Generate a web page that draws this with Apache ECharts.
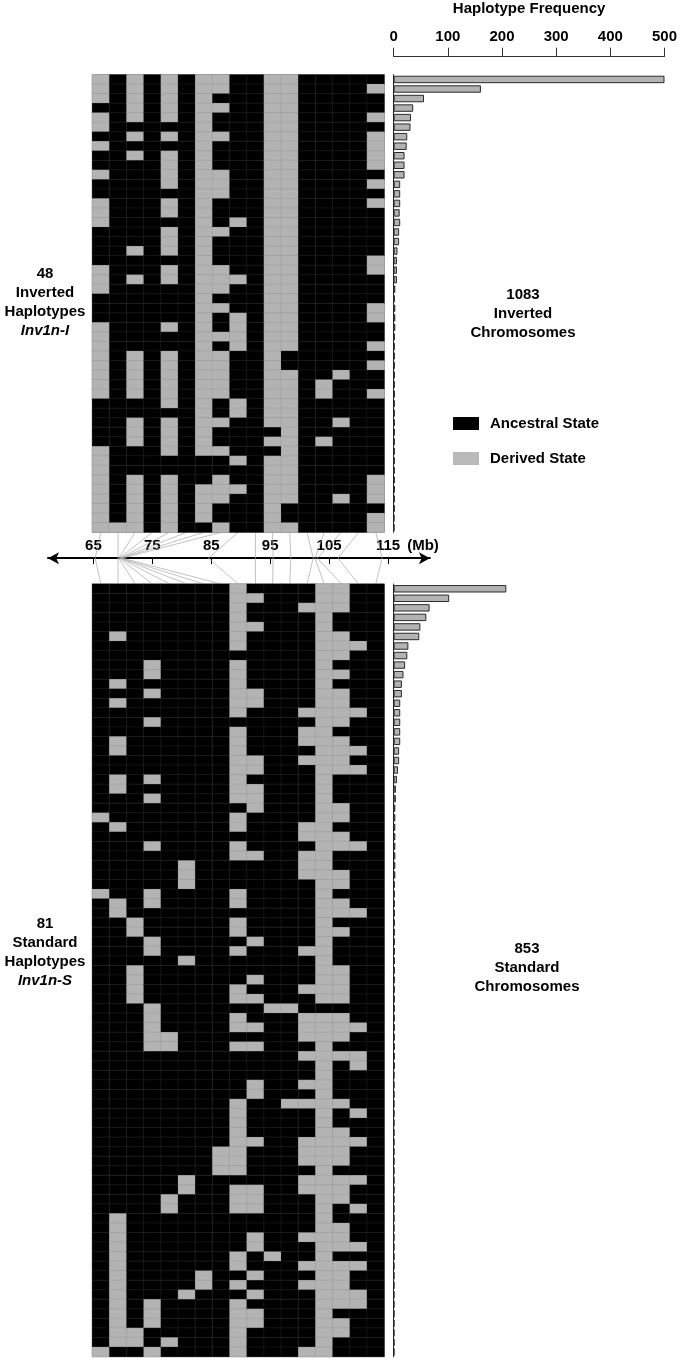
<!DOCTYPE html>
<html><head><meta charset="utf-8">
<script src="https://cdn.jsdelivr.net/npm/echarts@6/dist/echarts.min.js"></script>
<style>html,body{margin:0;padding:0;background:#fff}#c{width:680px;height:1360px}</style>
</head><body><div id="c"></div>
<script>
// ---------------- DATA ----------------
const snpLabels = ['S1','S2','S3','S4','S5','S6','S7','S8','S9','S10','S11','S12','S13','S14','S15','S16','S17'];
// SNP physical positions (Mb) on the chromosome axis
const snpPositionsMb = [65.3, 69.2, 69.3, 69.4, 69.5, 69.6, 69.7, 69.9, 84.5, 92.5, 95.5, 98.5, 102.3, 102.6, 103.0, 106.5, 114.0];
const mbTicks = [65, 75, 85, 95, 105, 115];
const freqTicks = [0, 100, 200, 300, 400, 500];

// Inverted haplotypes (48 rows): for each SNP column, the rows carrying the derived state
const invertedDerivedRows = [
  [0,1,2,4,5,7,10,13,14,15,20,21,22,26,27,28,29,30,31,32,33,39,40,41,42,43,44,45,46,47],
  [47],
  [0,1,2,3,4,6,8,18,21,29,30,31,32,33,36,37,38,42,43,44,45,46,47],
  [],
  [0,1,2,3,4,6,8,9,10,11,13,14,16,17,18,20,21,26,29,30,31,32,33,34,36,37,38,39,42,43,44,45,46,47],
  [],
  [0,1,2,3,4,5,6,7,8,9,10,11,12,13,14,15,16,17,18,19,20,21,22,23,24,25,26,27,28,29,30,31,32,33,34,35,36,37,38,39,43,44,45,46],
  [0,1,3,6,10,11,12,16,20,21,22,24,27,29,30,31,32,33,36,39,42,43,44,47],
  [15,21,25,26,27,28,34,35,40,43],
  [],
  [0,1,2,3,4,5,6,7,8,9,10,11,12,13,14,15,16,17,18,19,20,21,22,23,24,25,26,27,28,29,30,31,32,33,34,35,36,38,40,41,42,43,44,45,46,47],
  [0,1,2,3,4,5,6,7,8,9,10,11,12,13,14,15,16,17,18,19,20,21,22,23,24,25,26,27,28,31,32,33,34,35,36,37,38,39,40,41,42,43,44,47],
  [],
  [32,33,38],
  [31,36,44],
  [],
  [1,4,6,7,8,9,11,13,19,20,24,25,28,30,33,42,43,44,46,47]
];
const invertedCounts = [500,161,56,36,32,31,25,24,20,20,20,12,12,12,11,12,10,10,7,6,6,6,3,2,
  3,3,3,2,2,2,2,2,2,2,2,2,2,2,2,2,2,2,2,2,2,2,1,1];

// Standard haplotypes (81 rows)
const standardDerivedRows = [
  [24,32,80],
  [5,10,12,16,17,20,21,25,33,34,66,67,68,69,70,71,72,73,74,75,76,77,78,79],
  [35,36,40,41,42,43,78,79],
  [8,9,11,14,20,22,27,32,33,37,38,44,45,46,47,48,75,76,77,80],
  [47,48,64,65,79],
  [29,30,31,39,62,63,74],
  [72,73],
  [59,60,61],
  [0,1,2,3,4,5,6,8,9,10,11,12,13,15,16,17,18,19,20,21,22,24,25,27,28,32,33,35,36,38,42,43,45,46,48,54,55,56,57,58,59,60,61,63,64,65,70,71,73,75,76,77,78,79,80],
  [1,4,11,12,18,19,21,22,23,28,37,41,43,46,48,52,53,58,63,64,65,68,69,72,74,76,77],
  [44,70],
  [44,54],
  [2,13,15,16,18,25,26,28,29,30,38,42,45,46,47,49,52,54,58,59,60,62,63,68,71,73,80],
  [0,1,2,3,4,5,6,7,8,9,10,11,12,13,14,15,16,17,18,19,20,21,22,23,24,25,26,27,28,29,30,31,32,33,34,35,36,37,38,39,40,41,42,43,45,46,47,48,49,50,51,52,53,54,55,56,57,58,59,60,61,62,63,64,65,66,67,68,69,70,71,72,73,74,75,76,77,78,79,80],
  [0,1,2,5,6,7,9,11,12,13,14,16,17,18,19,23,24,26,27,30,31,33,34,36,40,41,42,43,45,46,47,49,54,57,58,59,60,62,63,64,67,68,69,71,72,73,74,75,77,78],
  [6,13,17,19,27,34,46,49,50,55,58,62,65,69,71,74,75],
  []
];
const standardCounts = [207,102,66,60,49,47,27,25,21,18,15,15,12,12,12,12,12,10,10,8,6,4,4,3,
  3,3,3,3,3,3,3,2,2,2,2,2,2,2,2,2,2,2,2,2,2,2,2,2,2,2,2,
  1,1,1,1,1,1,1,1,1,1,1,1,1,1,1,1,1,1,1,1,1,1,1,1,1,1,1,1,1,1];

// ---------------- LAYOUT ----------------
const FONT = '"Liberation Sans", Arial, Helvetica, sans-serif';
const L = { matLeft: 92.3, matWidth: 292, barLeft: 393.7, barWidth: 272,
  topY: 74.7, topH: 457.6, botY: 584, botH: 772.7, midLeft: 48, midWidth: 381.9 };
const AX_MIN = 57.3, AX_MAX = 122.1;
const midH = L.botY - L.topY - L.topH;
const nTop = invertedCounts.length, nBot = standardCounts.length;

function rowsCat(n){ const a=[]; for(let i=0;i<n;i++) a.push('H'+(i+1)); return a; }
function cells(derived, n){
  const d=[];
  derived.forEach((rows,c)=>{ for(let r=0;r<n;r++) d.push([c, r, rows.indexOf(r)>=0?1:0]); });
  return d;
}
function colCenterMb(i){
  const px = L.matLeft + (i+0.5)*L.matWidth/snpLabels.length;
  return AX_MIN + (px - L.midLeft)*(AX_MAX-AX_MIN)/L.midWidth;
}

const chart = echarts.init(document.getElementById('c'));
const cellStyle = { borderColor: 'rgba(110,110,110,0.35)', borderWidth: 0.5 };
const barStyle = { color: '#b3b3b3', borderColor: '#2a2a2a', borderWidth: 1 };
const boldText = { fontFamily: FONT, fontWeight: 'bold', fontSize: 15, color: '#000' };

chart.setOption({
  animation: false,
  backgroundColor: '#fff',
  grid: [
    { left: L.matLeft, top: L.topY, width: L.matWidth, height: L.topH, show: true, borderColor: '#8a8a8a', borderWidth: 1, backgroundColor: 'transparent' },
    { left: L.barLeft, top: L.topY, width: L.barWidth, height: L.topH },
    { left: L.matLeft, top: L.botY, width: L.matWidth, height: L.botH, show: true, borderColor: '#8a8a8a', borderWidth: 1, backgroundColor: 'transparent' },
    { left: L.barLeft, top: L.botY, width: L.barWidth, height: L.botH },
    { left: L.midLeft, top: L.topY + L.topH, width: L.midWidth, height: midH }
  ],
  xAxis: [
    { gridIndex: 0, type: 'category', data: snpLabels, show: false },
    { gridIndex: 1, type: 'value', min: 0, max: 500, interval: 100, position: 'top', offset: 18,
      name: 'Haplotype Frequency', nameLocation: 'middle', nameGap: 40, nameTextStyle: boldText,
      axisLine: { show: true, lineStyle: { color: '#333', width: 1 } },
      axisTick: { show: true, length: 9, lineStyle: { color: '#333' } },
      axisLabel: Object.assign({ margin: 12, customValues: freqTicks }, boldText),
      splitLine: { show: false } },
    { gridIndex: 2, type: 'category', data: snpLabels, show: false },
    { gridIndex: 3, type: 'value', min: 0, max: 500, show: false, splitLine: { show: false } },
    { gridIndex: 4, type: 'value', min: AX_MIN, max: AX_MAX, position: 'top', offset: -midH / 2,
      axisLine: { show: true, onZero: false, symbol: ['arrow', 'arrow'], symbolSize: [9, 11], lineStyle: { color: '#000', width: 2 } },
      axisTick: { show: true, inside: true, length: 6, customValues: mbTicks, lineStyle: { color: '#000', width: 1 } },
      axisLabel: Object.assign({ margin: 5, customValues: mbTicks }, boldText),
      splitLine: { show: false } }
  ],
  yAxis: [
    { gridIndex: 0, type: 'category', data: rowsCat(nTop), inverse: true, show: false },
    { gridIndex: 1, type: 'category', data: rowsCat(nTop), inverse: true,
      axisLine: { show: true, lineStyle: { color: '#222', width: 1 } }, axisTick: { show: false }, axisLabel: { show: false } },
    { gridIndex: 2, type: 'category', data: rowsCat(nBot), inverse: true, show: false },
    { gridIndex: 3, type: 'category', data: rowsCat(nBot), inverse: true,
      axisLine: { show: true, lineStyle: { color: '#222', width: 1 } }, axisTick: { show: false }, axisLabel: { show: false } },
    { gridIndex: 4, type: 'value', min: -1, max: 1, show: false }
  ],
  visualMap: {
    type: 'piecewise', show: false, seriesIndex: [0, 2], dimension: 2,
    pieces: [ { value: 0, color: '#000000' }, { value: 1, color: '#b3b3b3' } ]
  },
  legend: {
    orient: 'vertical', left: 448, top: 411, itemWidth: 26, itemHeight: 13, itemGap: 20, icon: 'rect',
    textStyle: Object.assign({ padding: [0, 0, 0, 6] }, boldText),
    data: ['Ancestral State', 'Derived State'], selectedMode: false
  },
  series: [
    { type: 'heatmap', xAxisIndex: 0, yAxisIndex: 0, data: cells(invertedDerivedRows, nTop), itemStyle: cellStyle },
    { type: 'bar', xAxisIndex: 1, yAxisIndex: 1, data: invertedCounts, barCategoryGap: '22%', itemStyle: barStyle },
    { type: 'heatmap', xAxisIndex: 2, yAxisIndex: 2, data: cells(standardDerivedRows, nBot), itemStyle: cellStyle },
    { type: 'bar', xAxisIndex: 3, yAxisIndex: 3, data: standardCounts, barCategoryGap: '22%', itemStyle: barStyle },
    { type: 'custom', xAxisIndex: 4, yAxisIndex: 4, silent: true, z: 1,
      data: snpPositionsMb.map((mb, i) => [i, mb]),
      renderItem: function (params, api) {
        const i = api.value(0), mb = api.value(1);
        const cm = colCenterMb(i);
        const p1 = api.coord([cm, 1]), p2 = api.coord([mb, 0]), p3 = api.coord([cm, -1]);
        return { type: 'polyline', shape: { points: [p1, p2, p3] },
          style: { stroke: '#a8a8a8', lineWidth: 0.7, fill: null } };
      } },
    // legend-only entries (no data)
    { type: 'scatter', name: 'Ancestral State', xAxisIndex: 4, yAxisIndex: 4, data: [], itemStyle: { color: '#000', opacity: 1 } },
    { type: 'scatter', name: 'Derived State', xAxisIndex: 4, yAxisIndex: 4, data: [], itemStyle: { color: '#bababa', opacity: 1 } }
  ],
  graphic: [
    { type: 'text', x: 45, y: 264, style: { text: '48\nInverted\nHaplotypes\n{i|Inv1n-I}', align: 'center', verticalAlign: 'top',
      fontFamily: FONT, fontWeight: 'bold', fontSize: 15, lineHeight: 19, fill: '#000',
      rich: { i: { fontFamily: FONT, fontWeight: 'bold', fontStyle: 'italic', fontSize: 15, lineHeight: 19 } } } },
    { type: 'text', x: 45, y: 914, style: { text: '81\nStandard\nHaplotypes\n{i|Inv1n-S}', align: 'center', verticalAlign: 'top',
      fontFamily: FONT, fontWeight: 'bold', fontSize: 15, lineHeight: 19, fill: '#000',
      rich: { i: { fontFamily: FONT, fontWeight: 'bold', fontStyle: 'italic', fontSize: 15, lineHeight: 19 } } } },
    { type: 'text', x: 523, y: 286, style: { text: '1083\nInverted\nChromosomes', align: 'center', verticalAlign: 'top',
      fontFamily: FONT, fontWeight: 'bold', fontSize: 15, lineHeight: 18.7, fill: '#000' } },
    { type: 'text', x: 527, y: 940, style: { text: '853\nStandard\nChromosomes', align: 'center', verticalAlign: 'top',
      fontFamily: FONT, fontWeight: 'bold', fontSize: 15, lineHeight: 18.7, fill: '#000' } },
    { type: 'text', x: 423, y: 546, style: { text: '(Mb)', align: 'center', verticalAlign: 'middle',
      fontFamily: FONT, fontWeight: 'bold', fontSize: 15, fill: '#000' } }
  ]
});
</script></body></html>
